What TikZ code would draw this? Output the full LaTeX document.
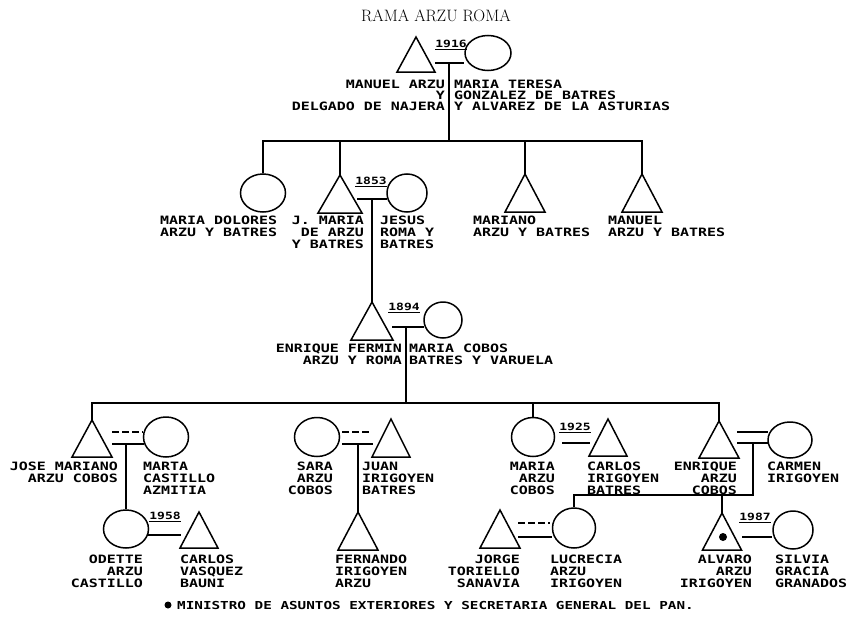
\documentclass[tikz,border=0pt]{standalone}
\usepackage{fontspec}
\usetikzlibrary{shapes.geometric}
% dot-matrix style lettering: a bold mono face, widened
\newfontfamily\dotfamily[FakeStretch=1.3]{DejaVu Sans Mono}
\newcommand\namefont{\dotfamily\bfseries\fontsize{11.5}{12}\selectfont}
\newcommand\topnamefont{\dotfamily\bfseries\fontsize{11.5}{11}\selectfont}
\newcommand\yearfont{\dotfamily\bfseries\fontsize{10}{10}\selectfont}
\newcommand\notefont{\dotfamily\bfseries\fontsize{11}{11}\selectfont}
% male symbol: apex name, base width, height
\newcommand\maletri[3]{\draw[shp] (#1) -- ++(-#2/2,#3) -- ++(#2,0) -- cycle;}
\tikzset{
  shp/.style={line width=1.5pt, line join=miter},
  fem/.style={draw, ellipse, line width=1.5pt, inner sep=0pt},
  link/.style={line width=1.4pt},
  linkd/.style={line width=1.4pt, dash pattern=on 7pt off 3pt},
  lbl/.style={font=\namefont, inner sep=0pt},
  lblL/.style={lbl, anchor=north west, align=left},
  lblR/.style={lbl, anchor=north east, align=right},
  yr/.style={font=\yearfont, inner sep=0pt},
}
\begin{document}
\begin{tikzpicture}[x=1pt, y=-1pt]
\fill[white] (0,0) rectangle (853,626);
\useasboundingbox (0,0) rectangle (853,626);

% title
\node[font=\fontsize{16.5}{17}\selectfont, inner sep=0pt] (title) at (436,16) {RAMA ARZU ROMA};

% ---------- first couple ----------
\coordinate (manuel) at (416,37);
\maletri{manuel}{38}{35}
\node[fem, minimum width=46, minimum height=35] (teresa) at (488,53) {};
\node[yr] (y1916) at (451,45) {\underline{1916}};
\coordinate (m1a) at (435,63);
\coordinate (m1b) at (464,63);
\coordinate (m1) at (449,63);
\draw[link] (m1a) -- (m1b);
\node[lbl, font=\topnamefont, anchor=north east, align=right] (tManuel) at (445,79.8)
  {MANUEL ARZU\\Y\\DELGADO DE NAJERA};
\node[lbl, font=\topnamefont, anchor=north west, align=left] (tTeresa) at (454,79.8)
  {MARIA TERESA\\GONZALEZ DE BATRES\\Y ALVAREZ DE LA ASTURIAS};

% children bar
\coordinate (bar1) at (449,141);
\draw[link] (m1) -- (bar1);

% ---------- second generation ----------
\node[fem, minimum width=45, minimum height=38] (dolores) at (263,193) {};
\coordinate (jmaria) at (340,175);
\maletri{jmaria}{44}{38}
\node[fem, minimum width=40, minimum height=38] (jesus) at (407,193) {};
\coordinate (mariano) at (525,174);
\maletri{mariano}{40}{38}
\coordinate (manuel2) at (642,174);
\maletri{manuel2}{40}{38}

\draw[link] (dolores.north) -- (dolores.north |- bar1) -- (manuel2 |- bar1) -- (manuel2);
\draw[link] (jmaria) -- (jmaria |- bar1);
\draw[link] (mariano) -- (mariano |- bar1);

\node[yr] (y1853) at (371,182) {\underline{1853}};
\coordinate (m2a) at (357,199);
\coordinate (m2b) at (387,199);
\coordinate (m2) at (372,199);
\draw[link] (m2a) -- (m2b);

\node[lblL] (tDolores) at (160,215.8) {MARIA DOLORES\\ARZU Y BATRES};
\node[lblR] (tJMaria) at (364,215.8) {J. MARIA\\DE ARZU\\Y BATRES};
\node[lblL] (tJesus) at (380,215.8) {JESUS\\ROMA Y\\BATRES};
\node[lblL] (tMariano) at (473,215.8) {MARIANO\\ARZU Y BATRES};
\node[lblL] (tManuel2) at (608,215.8) {MANUEL\\ARZU Y BATRES};

% ---------- third generation ----------
\coordinate (fermin) at (372,302);
\maletri{fermin}{42}{38}
\draw[link] (m2) -- (fermin);
\node[fem, minimum width=38, minimum height=36] (cobos) at (443,320) {};
\node[yr] (y1894) at (404,308) {\underline{1894}};
\coordinate (m3a) at (392,327);
\coordinate (m3b) at (424,327);
\coordinate (m3) at (406,327);
\draw[link] (m3a) -- (m3b);
\node[lblR] (tFermin) at (402,343.8) {ENRIQUE FERMIN\\ARZU Y ROMA};
\node[lblL] (tCobos) at (409,343.8) {MARIA COBOS\\BATRES Y VARUELA};

\coordinate (bar3) at (406,403);
\draw[link] (m3) -- (bar3);

% ---------- fourth generation ----------
\coordinate (josem) at (92,420);
\maletri{josem}{40}{37}
\node[fem, minimum width=45, minimum height=40] (marta) at (166,437) {};
\node[fem, minimum width=45, minimum height=39] (sara) at (317,437) {};
\coordinate (juan) at (391,419);
\maletri{juan}{38}{38}
\node[fem, minimum width=43, minimum height=39] (mariaa) at (533,437) {};
\coordinate (carlosi) at (608,419);
\maletri{carlosi}{38}{37}
\coordinate (enriquea) at (719,421);
\maletri{enriquea}{40}{37}
\node[fem, minimum width=44, minimum height=36] (carmen) at (790,440) {};

\draw[link] (josem) -- (josem |- bar3) -- (enriquea |- bar3) -- (enriquea);
\draw[link] (mariaa.north) -- (mariaa.north |- bar3);

% Jose Mariano + Marta
\coordinate (m4a) at (112,432);
\coordinate (m4b) at (143,432);
\coordinate (m4c) at (112,444);
\coordinate (m4d) at (144,444);
\coordinate (m4) at (126,444);
\draw[linkd] (m4a) -- (m4b);
\draw[link] (m4c) -- (m4d);
% Sara + Juan
\coordinate (m5a) at (342,432);
\coordinate (m5b) at (370,432);
\coordinate (m5c) at (342,444);
\coordinate (m5d) at (373,444);
\coordinate (m5) at (358,444);
\draw[linkd] (m5a) -- (m5b);
\draw[link] (m5c) -- (m5d);
% Maria + Carlos
\node[yr] (y1925) at (575,428) {\underline{1925}};
\coordinate (m6a) at (562,443);
\coordinate (m6b) at (590,443);
\draw[link] (m6a) -- (m6b);
% Enrique + Carmen
\coordinate (m7a) at (737,432);
\coordinate (m7b) at (768,432);
\coordinate (m7c) at (737,443);
\coordinate (m7d) at (768,443);
\coordinate (m7) at (753,443);
\draw[link] (m7a) -- (m7b);
\draw[link] (m7c) -- (m7d);

\node[lblR] (tJose) at (118,461.8) {JOSE MARIANO\\ARZU COBOS};
\node[lblL] (tMarta) at (143,461.8) {MARTA\\CASTILLO\\AZMITIA};
\node[lblR] (tSara) at (333,461.8) {SARA\\ARZU\\COBOS};
\node[lblL] (tJuan) at (362,461.8) {JUAN\\IRIGOYEN\\BATRES};
\node[lblR] (tMariaA) at (555,461.8) {MARIA\\ARZU\\COBOS};
\node[lblL] (tCarlosI) at (587,461.8) {CARLOS\\IRIGOYEN\\BATRES};
\node[lblR] (tEnriqueA) at (737,461.8) {ENRIQUE\\ARZU\\COBOS};
\node[lblL] (tCarmen) at (767,461.8) {CARMEN\\IRIGOYEN};

% ---------- fifth generation ----------
\node[fem, minimum width=45, minimum height=38] (odette) at (126,529) {};
\coordinate (carlosv) at (199,512);
\maletri{carlosv}{38}{36}
\coordinate (fernando) at (358,512);
\maletri{fernando}{40}{38}
\coordinate (jorge) at (500,510);
\maletri{jorge}{40}{38}
\node[fem, minimum width=43, minimum height=40] (lucrecia) at (574,528) {};
\coordinate (alvaro) at (722,513);
\maletri{alvaro}{39}{37}
\node[circle, fill, inner sep=0pt, minimum size=8] (mark) at (723,537) {};
\node[fem, minimum width=40, minimum height=38] (silvia) at (793,530) {};

\draw[link] (m4) -- (odette.north);
\draw[link] (m5) -- (fernando);
\coordinate (bar7) at (753,495);
\draw[link] (m7) -- (bar7) -- (lucrecia.north |- bar7) -- (lucrecia.north);
\draw[link] (alvaro |- bar7) -- (alvaro);

% Odette + Carlos
\node[yr] (y1958) at (165,517) {\underline{1958}};
\coordinate (m8a) at (148,535);
\coordinate (m8b) at (181,535);
\draw[link] (m8a) -- (m8b);
% Jorge + Lucrecia
\coordinate (m9a) at (518,523);
\coordinate (m9b) at (550,523);
\coordinate (m9c) at (518,537);
\coordinate (m9d) at (552,537);
\draw[linkd] (m9a) -- (m9b);
\draw[link] (m9c) -- (m9d);
% Alvaro + Silvia
\node[yr] (y1987) at (755,518) {\underline{1987}};
\coordinate (m10a) at (742,537);
\coordinate (m10b) at (772,537);
\draw[link] (m10a) -- (m10b);

\node[lblR] (tOdette) at (143,554.8) {ODETTE\\ARZU\\CASTILLO};
\node[lblL] (tCarlosV) at (180,554.8) {CARLOS\\VASQUEZ\\BAUNI};
\node[lblL] (tFernando) at (335,554.8) {FERNANDO\\IRIGOYEN\\ARZU};
\node[lblR] (tJorge) at (520,554.8) {JORGE\\TORIELLO\\SANAVIA};
\node[lblL] (tLucrecia) at (550,554.8) {LUCRECIA\\ARZU\\IRIGOYEN};
\node[lblR] (tAlvaro) at (752,554.8) {ALVARO\\ARZU\\IRIGOYEN};
\node[lblL] (tSilvia) at (775,554.8) {SILVIA\\GRACIA\\GRANADOS};

% footnote
\node[circle, fill, inner sep=0pt, minimum size=7] (notemark) at (168,605) {};
\node[font=\notefont, inner sep=0pt, anchor=west] (note) at (177,605)
  {MINISTRO DE ASUNTOS EXTERIORES Y SECRETARIA GENERAL DEL PAN.};
\end{tikzpicture}
\end{document}
